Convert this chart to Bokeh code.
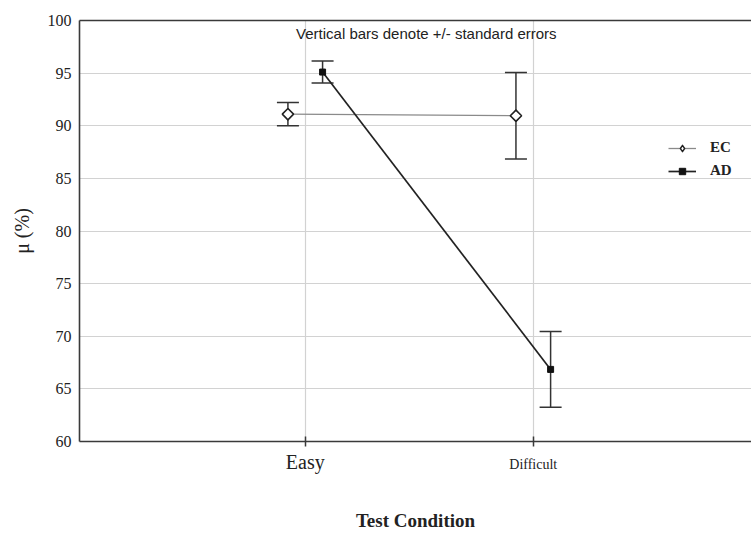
from bokeh.plotting import figure
from bokeh.models import (Range1d, FixedTicker, LinearAxis, Whisker, ColumnDataSource,
                          Label, Legend, LegendItem, TeeHead)
from bokeh.embed import file_html
from bokeh.resources import INLINE

# ---- data ----
conditions = ["Easy", "Difficult"]
cond_pos = [0, 1]
ec_mean = [91.1, 90.95]
ec_se = [1.1, 4.1]
ad_mean = [95.1, 66.85]
ad_se = [1.05, 3.6]
y_ticks = [60, 65, 70, 75, 80, 85, 90, 95, 100]
series_names = ["EC", "AD"]
note = "Vertical bars denote +/- standard errors"
x_title = "Test Condition"
y_title = "\u03bc (%)"

DODGE = 0.076
SERIF = "Liberation Serif"
SANS = "Liberation Sans"
AXIS_C = "#3a3a3a"

p = figure(width=751, height=533, output_backend="svg", toolbar_location=None,
           x_range=Range1d(-0.99, 1.957), y_range=Range1d(60, 100),
           min_border_left=79, min_border_right=0, min_border_top=20,
           min_border_bottom=92, outline_line_color=None,
           background_fill_color="white", border_fill_color="white")

# main x axis: ticks + "Easy"
p.xaxis.ticker = FixedTicker(ticks=cond_pos)
p.xaxis.major_label_overrides = {cond_pos[0]: conditions[0], cond_pos[1]: ""}
p.xaxis.major_label_text_font = SERIF
p.xaxis.major_label_text_font_size = "20px"
p.xaxis.major_label_text_color = "#222"
p.xaxis.major_label_standoff = 4
p.xaxis.major_tick_in = 5
p.xaxis.major_tick_out = 5
p.xaxis.minor_tick_line_color = None
p.xaxis.axis_line_color = AXIS_C
p.xaxis.axis_line_width = 1.6
p.xaxis.major_tick_line_color = AXIS_C
p.xaxis.major_tick_line_width = 1.5

# second (label-only) x axis: smaller "Difficult" + axis title
x2 = LinearAxis(ticker=FixedTicker(ticks=cond_pos),
                major_label_overrides={cond_pos[0]: "", cond_pos[1]: conditions[1]},
                major_label_text_font=SERIF, major_label_text_font_size="14px",
                major_label_text_color="#222", major_label_standoff=-19,
                major_tick_in=0, major_tick_out=0, major_tick_line_color=None,
                minor_tick_line_color=None, axis_line_color=None,
                axis_label=x_title, axis_label_text_font=SERIF,
                axis_label_text_font_style="bold", axis_label_text_font_size="19px",
                axis_label_text_color="#222", axis_label_standoff=35)
p.add_layout(x2, "below")

p.yaxis.ticker = FixedTicker(ticks=y_ticks)
p.yaxis.major_tick_in = 0
p.yaxis.major_tick_out = 0
p.yaxis.minor_tick_line_color = None
p.yaxis.major_label_standoff = 8
p.yaxis.major_label_text_font = SERIF
p.yaxis.major_label_text_font_size = "16px"
p.yaxis.major_label_text_color = "#222"
p.yaxis.axis_line_color = AXIS_C
p.yaxis.axis_line_width = 1.6
p.yaxis.axis_label = y_title
p.yaxis.axis_label_text_font = SERIF
p.yaxis.axis_label_text_font_style = "normal"
p.yaxis.axis_label_text_font_size = "20px"
p.yaxis.axis_label_text_color = "#222"
p.yaxis.axis_label_standoff = 12

top = LinearAxis(ticker=FixedTicker(ticks=[]), axis_line_color=AXIS_C,
                 axis_line_width=1.6, major_tick_line_color=None,
                 minor_tick_line_color=None, major_label_text_font_size="0px")
p.add_layout(top, "above")

p.xgrid.ticker = FixedTicker(ticks=cond_pos)
p.ygrid.ticker = FixedTicker(ticks=y_ticks)
p.xgrid.grid_line_color = "#d2d2d2"
p.ygrid.grid_line_color = "#d2d2d2"
p.xgrid.grid_line_width = 1.2
p.ygrid.grid_line_width = 1.2

ec_x = [c - DODGE for c in cond_pos]
ad_x = [c + DODGE for c in cond_pos]

# error bars
for xs, means, ses in ((ec_x, ec_mean, ec_se), (ad_x, ad_mean, ad_se)):
    src = ColumnDataSource(dict(x=xs,
                                upper=[m + s for m, s in zip(means, ses)],
                                lower=[m - s for m, s in zip(means, ses)]))
    w = Whisker(base="x", upper="upper", lower="lower", source=src,
                dimension="height", line_color="#333", line_width=1.5,
                upper_head=TeeHead(size=22, line_color="#333", line_width=1.5),
                lower_head=TeeHead(size=22, line_color="#333", line_width=1.5))
    p.add_layout(w)

ec_line = p.line(ec_x, ec_mean, line_color="#8a8a8a", line_width=1.3)
ad_line = p.line(ad_x, ad_mean, line_color="#222", line_width=1.7)
# diamond used as legend key; fully covered by the rotated square drawn on top
ec_key = p.scatter(ec_x, ec_mean, marker="diamond", size=11, fill_color="white",
                   line_color="#222", line_width=1.4, line_join="round")
ec_pts = p.scatter(ec_x, ec_mean, marker="square", angle=0.7854, size=8,
                   fill_color="white", line_color="#222", line_width=1.6)
ad_pts = p.scatter(ad_x, ad_mean, marker="square", size=6,
                   fill_color="#111", line_color="#111")

p.add_layout(Label(x=0.531, y=98.8, text=note, text_align="center",
                   text_baseline="middle", text_font=SANS,
                   text_font_size="15px", text_color="#222"))

legend = Legend(items=[LegendItem(label=series_names[0], renderers=[ec_line, ec_key]),
                       LegendItem(label=series_names[1], renderers=[ad_line, ad_pts])],
                location=(589, 262), orientation="vertical",
                glyph_width=28, glyph_height=16, label_height=16, spacing=6,
                padding=0, margin=0, label_standoff=14,
                border_line_color=None, background_fill_alpha=0,
                label_text_font=SERIF, label_text_font_style="bold",
                label_text_font_size="15px", label_text_color="#222")
p.add_layout(legend)

open("out.html", "w").write(file_html(p, INLINE))
